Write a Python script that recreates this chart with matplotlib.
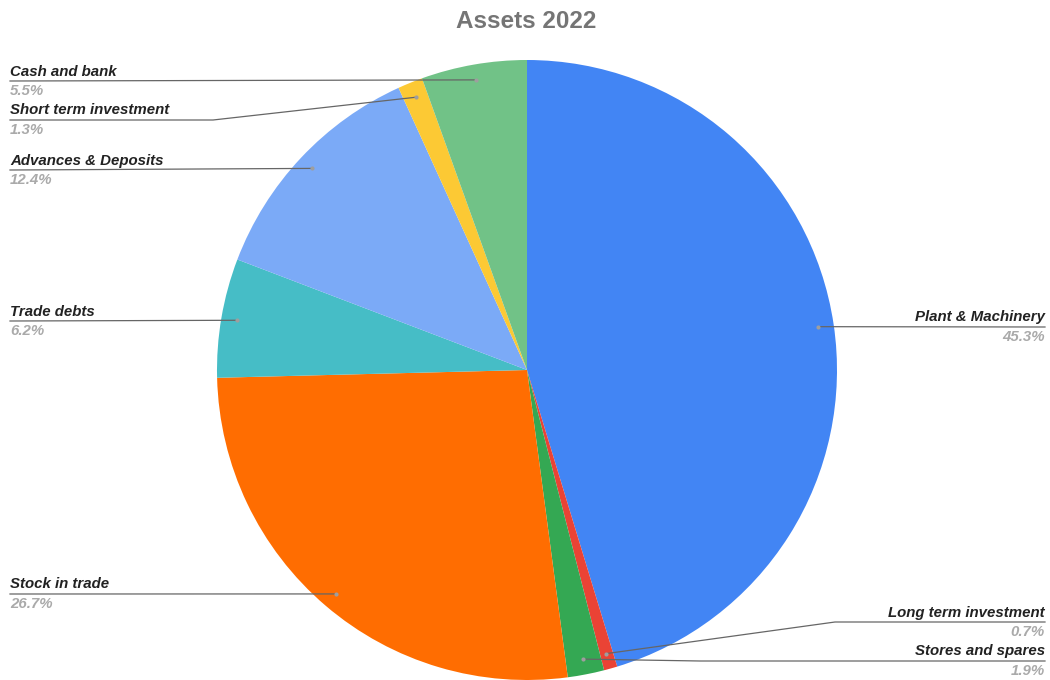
import numpy as np
import matplotlib.pyplot as plt

plt.rcParams['font.family'] = ['Liberation Sans', 'DejaVu Sans']

# slices, clockwise from 12 o'clock
names = ['Plant & Machinery', 'Long term investment', 'Stores and spares',
         'Stock in trade', 'Trade debts', 'Advances & Deposits',
         'Short term investment', 'Cash and bank']
shares = [45.3, 0.7, 1.9, 26.7, 6.2, 12.4, 1.3, 5.5]
colors = ['#4285f4', '#ea4335', '#34a853', '#ff6d01', '#46bdc6',
          '#7baaf7', '#fcc934', '#71c287']

# label layout: side, underline y (px from top), elbow x (None = straight to dot)
layout = {
    'Plant & Machinery':     ('right', 327, None),
    'Long term investment':  ('right', 622, 835),
    'Stores and spares':     ('right', 661, 700),
    'Stock in trade':        ('left', 594, None),
    'Trade debts':           ('left', 321, None),
    'Advances & Deposits':   ('left', 170, None),
    'Short term investment': ('left', 120, 213),
    'Cash and bank':         ('left', 81, None),
}

W, H = 1050, 680
fig = plt.figure(figsize=(W / 100, H / 100), dpi=100)
ax = fig.add_axes([0, 0, 1, 1])

cx, cy, R = 527, H - 370, 310
wedges, _ = ax.pie(shares, colors=colors, startangle=90, counterclock=False,
                   center=(cx, cy), radius=R, frame=True,
                   wedgeprops=dict(linewidth=0))
ax.set_xlim(0, W)
ax.set_ylim(0, H)
ax.axis('off')

for w, name, val in zip(wedges, names, shares):
    mid = np.deg2rad((w.theta1 + w.theta2) / 2)
    dx = cx + 0.95 * R * np.cos(mid)
    dy = cy + 0.95 * R * np.sin(mid)
    side, uy, elbow = layout[name]
    y = H - uy
    if side == 'left':
        x0, ha = 10, 'left'
    else:
        x0, ha = 1045, 'right'
    if elbow is None:
        xs, ys = [x0, dx], [y, dy]
    else:
        xs, ys = [x0, elbow, dx], [y, y, dy]
    ax.plot(xs, ys, color='#666666', lw=0.9, zorder=3)
    ax.plot(dx, dy, 'o', ms=3, color='#9e9e9e', mec='none', zorder=4)
    ax.text(x0, y + 2.5, name, ha=ha, va='bottom', fontsize=10.8,
            fontweight='bold', style='italic', color='#222222')
    ax.text(x0, y - 3, f'{val}%', ha=ha, va='top', fontsize=10.8,
            fontweight='bold', style='italic', color='#aaaaaa')

ax.text(W / 2 + 1, H - 22, 'Assets 2022', ha='center', va='center',
        fontsize=17.5, fontweight='bold', color='#757575')

fig.savefig('out.png', dpi=100)
